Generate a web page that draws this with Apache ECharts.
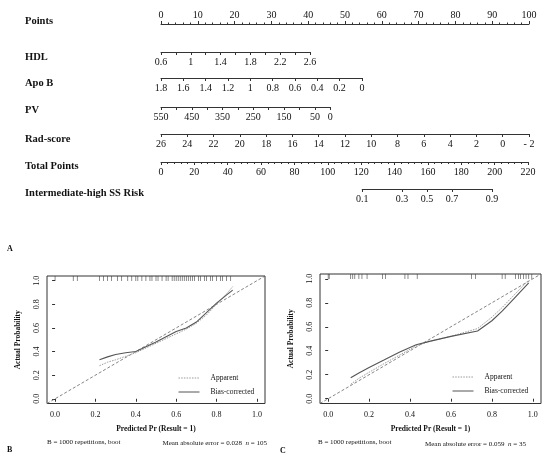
<!DOCTYPE html>
<html>
<head>
<meta charset="utf-8">
<script src="https://cdn.jsdelivr.net/npm/echarts@6/dist/echarts.min.js"></script>
<style>
html, body { margin: 0; padding: 0; background: #fff; }
#main { width: 550px; height: 461px; }
</style>
</head>
<body>
<div id="main"></div>
<script>
// ---- nomogram scales ----
var pointsLabels = [0, 10, 20, 30, 40, 50, 60, 70, 80, 90, 100];
var hdlLabels = [0.6, 1, 1.4, 1.8, 2.2, 2.6];
var hdlRange = [0.6, 2.6];
var hdlPoints = [0, 40.5];
var apoLabels = [1.8, 1.6, 1.4, 1.2, 1, 0.8, 0.6, 0.4, 0.2, 0];
var apoRange = [0, 1.8];
var apoPoints = [0, 54.6];
var pvLabels = [550, 450, 350, 250, 150, 50, 0];
var pvRange = [0, 550];
var pvPoints = [0, 46];
var radLabels = [26, 24, 22, 20, 18, 16, 14, 12, 10, 8, 6, 4, 2, 0, -2];
var radRange = [-2, 26];
var radPoints = [0, 100];
var totalLabels = [0, 20, 40, 60, 80, 100, 120, 140, 160, 180, 200, 220];
var riskLabels = [0.1, 0.3, 0.5, 0.7, 0.9];
var riskTotal = [120.6, 198.4];   // total points at risk 0.1 and 0.9

// ---- calibration curves ----
var calXB = [0.22, 0.26, 0.30, 0.35, 0.40, 0.45, 0.50, 0.55, 0.60, 0.65, 0.70, 0.75, 0.80, 0.85, 0.88];
var appYB = [0.28, 0.31, 0.33, 0.36, 0.39, 0.43, 0.47, 0.51, 0.55, 0.59, 0.64, 0.71, 0.80, 0.89, 0.95];
var biasYB = [0.33, 0.355, 0.375, 0.39, 0.40, 0.44, 0.48, 0.525, 0.57, 0.60, 0.65, 0.73, 0.81, 0.88, 0.92];
var rugB = [0.0, 0.09, 0.11, 0.22, 0.24, 0.26, 0.28, 0.31, 0.33, 0.36, 0.38, 0.40, 0.41, 0.43, 0.45,
            0.47, 0.48, 0.50, 0.51, 0.53, 0.55, 0.56, 0.58, 0.59, 0.60, 0.61, 0.62, 0.63, 0.64, 0.65,
            0.66, 0.67, 0.68, 0.69, 0.71, 0.72, 0.74, 0.75, 0.77, 0.78, 0.80, 0.82, 0.83, 0.85, 0.87];

var calXC = [0.11, 0.15, 0.20, 0.27, 0.35, 0.43, 0.50, 0.60, 0.73, 0.80, 0.85, 0.90, 0.98];
var appYC = [0.12, 0.17, 0.22, 0.29, 0.365, 0.44, 0.48, 0.52, 0.585, 0.68, 0.76, 0.85, 0.99];
var biasYC = [0.175, 0.215, 0.26, 0.32, 0.39, 0.45, 0.48, 0.52, 0.565, 0.65, 0.73, 0.82, 0.965];
var rugC = [0.0, 0.005, 0.11, 0.12, 0.13, 0.15, 0.165, 0.19, 0.265, 0.28, 0.375, 0.39, 0.435,
            0.70, 0.72, 0.85, 0.865, 0.915, 0.93, 0.94, 0.955, 0.967, 0.98, 0.995];

var calTicks = [0, 0.2, 0.4, 0.6, 0.8, 1.0];
var idealLine = [-0.04, 1.04];

// ---- layout helpers ----
var serif = 'Liberation Serif';
var ink = '#333';
var px0 = 161, pxPerPoint = 3.68, pxPerTotal = 367 / 220;
function ptX(p) { return px0 + p * pxPerPoint; }
function totX(t) { return px0 + t * pxPerTotal; }
function logit(p) { return Math.log(p / (1 - p)); }
function zip(a, b) { return a.map(function (v, i) { return [v, b[i]]; }); }

var grids = [], xAxes = [], yAxes = [];

function addRow(lineY, left, right, ax, top) {
    var i = grids.length;
    grids.push({
        left: left, width: right - left, top: top ? lineY : lineY - 1, height: 1,
        containLabel: false, outerBoundsMode: 'none'
    });
    yAxes.push({ gridIndex: i, show: false, min: 0, max: 1 });
    xAxes.push(Object.assign({
        type: 'value', gridIndex: i, position: top ? 'top' : 'bottom',
        axisLine: { show: true, onZero: false, lineStyle: { color: ink, width: 1 } },
        axisTick: { show: true, length: 3, lineStyle: { color: ink, width: 1 } },
        splitLine: { show: false },
        axisLabel: { fontFamily: serif, fontSize: 10, color: '#111', margin: top ? 4 : 5 }
    }, ax));
}

function labelsOf(list, fmt) {
    return { fontFamily: serif, fontSize: 10, color: '#111', margin: 5, customValues: list, formatter: fmt };
}

addRow(24, ptX(0), ptX(100), {
    min: 0, max: 100, interval: 10,
    minorTick: { show: true, splitNumber: 5, length: 1.5, lineStyle: { color: ink } },
    axisLabel: { fontFamily: serif, fontSize: 10, color: '#111', margin: 4, customValues: pointsLabels }
}, true);
addRow(52, ptX(hdlPoints[0]), ptX(hdlPoints[1]), {
    min: hdlRange[0], max: hdlRange[1], interval: 0.2, axisLabel: labelsOf(hdlLabels)
});
addRow(78, ptX(apoPoints[0]), ptX(apoPoints[1]), {
    min: apoRange[0], max: apoRange[1], interval: 0.2, inverse: true, axisLabel: labelsOf(apoLabels)
});
addRow(107, ptX(pvPoints[0]), ptX(pvPoints[1]), {
    min: pvRange[0], max: pvRange[1], interval: 50, inverse: true, axisLabel: labelsOf(pvLabels)
});
addRow(134, ptX(radPoints[0]), ptX(radPoints[1]), {
    min: radRange[0], max: radRange[1], interval: 2, inverse: true,
    axisLabel: labelsOf(radLabels, function (v) { return v < 0 ? '- ' + (-v) : String(v); })
});
addRow(162, totX(0), totX(220), {
    min: 0, max: 220, interval: 20,
    minorTick: { show: true, splitNumber: 5, length: 2, lineStyle: { color: ink } },
    axisLabel: labelsOf(totalLabels)
});
var riskVals = riskLabels.map(logit);
addRow(189, totX(riskTotal[0]), totX(riskTotal[1]), {
    min: logit(riskLabels[0]), max: logit(riskLabels[riskLabels.length - 1]),
    axisTick: { show: true, length: 3, lineStyle: { color: ink }, customValues: riskVals },
    axisLabel: labelsOf(riskVals, function (v) { return (1 / (1 + Math.exp(-v))).toFixed(1); })
});

// ---- calibration panels ----
var series = [];
function addCal(box, xs, app, bias, rug) {
    var i = grids.length;
    grids.push({
        left: box[0], top: box[1], width: box[2], height: box[3],
        show: true, borderColor: ink, borderWidth: 1,
        containLabel: false, outerBoundsMode: 'none'
    });
    var tickLabel = {
        fontFamily: serif, fontSize: 8, color: '#111', margin: 7, customValues: calTicks,
        formatter: function (v) { return v.toFixed(1); }
    };
    xAxes.push({
        type: 'value', gridIndex: i, min: -0.04, max: 1.04,
        axisLine: { show: false }, splitLine: { show: false },
        axisTick: { show: true, length: 3, customValues: calTicks, lineStyle: { color: ink } },
        axisLabel: tickLabel,
        name: 'Predicted Pr (Result = 1)', nameLocation: 'middle', nameGap: 22,
        nameTextStyle: { fontFamily: serif, fontSize: 7.5, fontWeight: 'bold', color: '#111' }
    });
    yAxes.push({
        type: 'value', gridIndex: i, min: -0.04, max: 1.04,
        axisLine: { show: false }, splitLine: { show: false },
        axisTick: { show: true, length: 3, customValues: calTicks, lineStyle: { color: ink } },
        axisLabel: Object.assign({}, tickLabel, { rotate: 90, margin: 6 }),
        name: 'Actual Probability', nameLocation: 'middle', nameGap: 25,
        nameTextStyle: { fontFamily: serif, fontSize: 7.5, fontWeight: 'bold', color: '#111' }
    });
    series.push({
        type: 'line', xAxisIndex: i, yAxisIndex: i, silent: true, symbol: 'none',
        data: [[idealLine[0], idealLine[0]], [idealLine[1], idealLine[1]]],
        lineStyle: { color: '#666', width: 0.8, type: [3, 2] }
    });
    series.push({
        name: 'Apparent', type: 'line', xAxisIndex: i, yAxisIndex: i, symbol: 'none',
        itemStyle: { color: '#9a9a9a' },
        data: zip(xs, app), lineStyle: { color: '#9a9a9a', width: 1, type: [1.5, 1.2] }
    });
    series.push({
        name: 'Bias-corrected', type: 'line', xAxisIndex: i, yAxisIndex: i, symbol: 'none',
        itemStyle: { color: '#555' },
        data: zip(xs, bias), lineStyle: { color: '#555', width: 1.1 }
    });
    series.push({
        type: 'scatter', xAxisIndex: i, yAxisIndex: i, silent: true,
        data: rug.map(function (v) { return [v, 1.04]; }),
        symbol: 'rect', symbolSize: [0.7, 5], symbolOffset: [0, 2.5],
        itemStyle: { color: '#333' }
    });
}
addCal([47, 276, 218, 127.5], calXB, appYB, biasYB, rugB);
addCal([320, 274, 221, 129.5], calXC, appYC, biasYC, rugC);

function legendAt(left, top) {
    return {
        left: left, top: top, padding: 0, orient: 'vertical', itemWidth: 21, itemHeight: 8, itemGap: 6,
        selectedMode: false, data: ['Apparent', 'Bias-corrected'],
        itemStyle: { color: 'rgba(0,0,0,0)', opacity: 0, borderWidth: 0 },
        lineStyle: { width: 1 },
        textStyle: { fontFamily: serif, fontSize: 7.5, color: '#111', padding: [0, 0, 0, 6] }
    };
}

// ---- texts ----
function txt(s, x, y, o) {
    return {
        type: 'text', x: x, y: y, silent: true,
        style: Object.assign({
            text: s, fontFamily: serif, fontSize: 10.5, fontWeight: 'bold', fill: '#111',
            verticalAlign: 'middle'
        }, o || {})
    };
}
var rowNames = ['Points', 'HDL', 'Apo B', 'PV', 'Rad-score', 'Total Points', 'Intermediate-high SS Risk'];
var rowNameY = [21, 57, 83, 110, 139, 166, 193];
var graphics = rowNames.map(function (n, k) { return txt(n, 25, rowNameY[k]); });
var small = { fontSize: 7, fontWeight: 'normal' };
graphics.push(
    txt('A', 7, 249, { fontSize: 8 }),
    txt('B', 7, 450, { fontSize: 8 }),
    txt('C', 280, 451, { fontSize: 8 }),
    txt('B = 1000 repetitions, boot', 47, 442, small),
    txt('Mean absolute error = 0.028  {i|n} = 105', 267, 443,
        Object.assign({ align: 'right', rich: { i: { fontStyle: 'italic', fontFamily: serif, fontSize: 7 } } }, small)),
    txt('B = 1000 repetitions, boot', 318, 442, small),
    txt('Mean absolute error = 0.059  {i|n} = 35', 526, 444,
        Object.assign({ align: 'right', rich: { i: { fontStyle: 'italic', fontFamily: serif, fontSize: 7 } } }, small))
);

var chart = echarts.init(document.getElementById('main'));
chart.setOption({
    animation: false,
    backgroundColor: '#fff',
    grid: grids,
    xAxis: xAxes,
    yAxis: yAxes,
    legend: [legendAt(178, 374), legendAt(452, 373)],
    series: series,
    graphic: graphics
});
window.addEventListener('resize', function () { chart.resize(); });
</script>
</body>
</html>
